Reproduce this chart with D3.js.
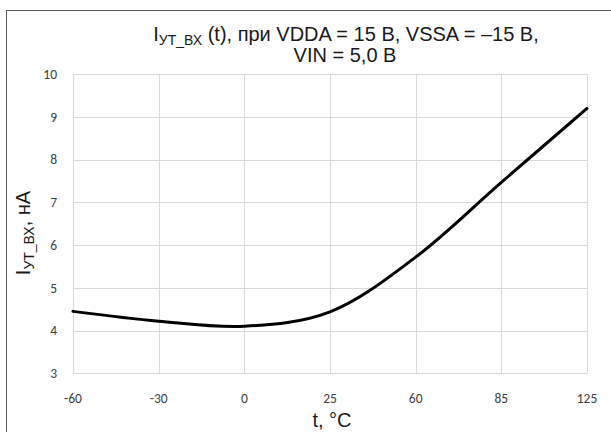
<!DOCTYPE html>
<html><head><meta charset="utf-8">
<script src="https://cdn.jsdelivr.net/npm/d3@7"></script>
<style>body{margin:0;background:#fff}</style>
</head><body>
<svg id="c" width="611" height="432"></svg>
<script>
const categories = ["-60", "-30", "0", "25", "60", "85", "125"];
const values = [4.45, 4.22, 4.10, 4.44, 5.72, 7.47, 9.2];
const yTicks = [3, 4, 5, 6, 7, 8, 9, 10];

const svg = d3.select("#c");
const m = {left: 73, right: 587, top: 74.3, bottom: 373.3};
const x = d3.scalePoint().domain(categories).range([m.left, m.right]);
const y = d3.scaleLinear().domain([3, 10]).range([m.bottom, m.top]);

// chart border
svg.append("rect").attr("x", 6.5).attr("y", 10.5).attr("width", 640).attr("height", 440)
  .attr("fill", "#fff").attr("stroke", "#595959").attr("stroke-width", 1);

const grid = svg.append("g");
grid.selectAll(".h").data(yTicks).join("line")
  .attr("x1", m.left).attr("x2", m.right)
  .attr("y1", d => Math.round(y(d)) + 0.5).attr("y2", d => Math.round(y(d)) + 0.5)
  .attr("stroke", "#d9d9d9").attr("stroke-width", 1);
grid.selectAll(".v").data(categories).join("line")
  .attr("y1", m.top).attr("y2", m.bottom)
  .attr("x1", d => Math.round(x(d)) + 0.5).attr("x2", d => Math.round(x(d)) + 0.5)
  .attr("stroke", "#d9d9d9").attr("stroke-width", 1);

const tickFont = "Carlito, Lato, 'Open Sans', sans-serif";
svg.append("g").selectAll("text").data(yTicks).join("text")
  .attr("x", 57).attr("y", d => y(d)).attr("dy", "0.35em")
  .attr("text-anchor", "end").attr("font-family", tickFont).attr("font-size", 13.5)
  .attr("fill", "#404040").text(d => d);
svg.append("g").selectAll("text").data(categories).join("text")
  .attr("x", d => x(d)).attr("y", 398).attr("dy", "0.35em")
  .attr("text-anchor", "middle").attr("font-family", tickFont).attr("font-size", 13.5)
  .attr("fill", "#404040").text(d => d);

const line = d3.line().x((d, i) => x(categories[i])).y(d => y(d)).curve(d3.curveCatmullRom.alpha(0.5));
svg.append("path").datum(values).attr("d", line).attr("fill", "none")
  .attr("stroke", "#000").attr("stroke-width", 3).attr("stroke-linecap", "round");

const tf = "'Liberation Sans', Arial, sans-serif";
// title
const t1 = svg.append("text").attr("x", 346).attr("y", 41).attr("text-anchor", "middle")
  .attr("font-family", tf).attr("font-size", 20).attr("fill", "#1a1a1a");
t1.append("tspan").text("I");
t1.append("tspan").attr("font-size", 14).attr("dy", 4).text("УТ_ВХ");
t1.append("tspan").attr("dy", -4).text(" (t), при VDDA = 15 В, VSSA = –15 В,");
svg.append("text").attr("x", 345).attr("y", 62).attr("text-anchor", "middle")
  .attr("font-family", tf).attr("font-size", 20).attr("fill", "#1a1a1a").text("VIN = 5,0 В");

// y label
const yl = svg.append("text").attr("transform", "translate(30,233) rotate(-90)")
  .attr("text-anchor", "middle").attr("font-family", tf).attr("font-size", 20).attr("fill", "#1a1a1a");
yl.append("tspan").text("I");
yl.append("tspan").attr("font-size", 14).attr("dy", 4).text("УТ_ВХ");
yl.append("tspan").attr("dy", -4).text(", нА");

svg.append("text").attr("x", 332).attr("y", 427).attr("text-anchor", "middle")
  .attr("font-family", tf).attr("font-size", 20).attr("fill", "#1a1a1a").text("t, °C");
</script>
</body></html>
